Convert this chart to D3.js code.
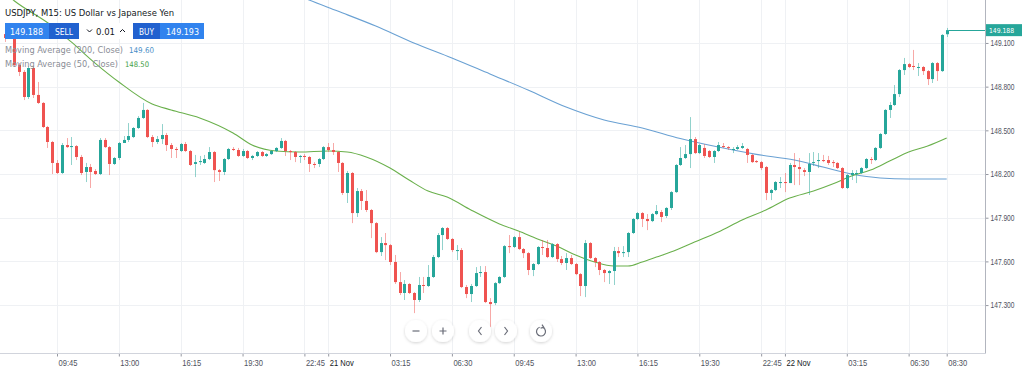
<!DOCTYPE html>
<html>
<head>
<meta charset="utf-8">
<script src="https://cdn.jsdelivr.net/npm/d3@7"></script>
<style>
  body { margin: 0; background: #fff; }
  svg { display: block; font-family: "Liberation Sans Narrow", "DejaVu Sans Condensed", "Arial Narrow", "Liberation Sans", sans-serif; }
</style>
</head>
<body>
<script>
const width = 1024, height = 370
const plotRight = 985, plotBottom = 353

// 15 minute bars, first one at 07:00 on 20 Nov
const startTime = '2023-11-20 07:00'

const opens = [
  149.161, 149.134, 149.182, 148.949, 148.901, 148.729, 148.928, 148.743, 148.688, 148.523,
  148.420, 148.276, 148.207, 148.399, 148.385, 148.392, 148.317, 148.214, 148.248, 148.221,
  148.200, 148.434, 148.385, 148.269, 148.310, 148.413, 148.434, 148.454, 148.516, 148.585,
  148.640, 148.454, 148.420, 148.440, 148.468, 148.399, 148.372, 148.358, 148.406, 148.358,
  148.269, 148.282, 148.276, 148.303, 148.351, 148.227, 148.214, 148.303, 148.372, 148.365,
  148.324, 148.358, 148.310, 148.324, 148.351, 148.324, 148.337, 148.358, 148.379, 148.427,
  148.358, 148.351, 148.317, 148.324, 148.317, 148.269, 148.269, 148.303, 148.385, 148.365,
  148.351, 148.276, 148.070, 148.207, 147.932, 148.083, 148.015, 147.953, 147.863, 147.664,
  147.726, 147.712, 147.596, 147.458, 147.383, 147.445, 147.383, 147.335, 147.438, 147.431,
  147.493, 147.630, 147.781, 147.829, 147.754, 147.671, 147.678, 147.424, 147.376, 147.431,
  147.520, 147.527, 147.321, 147.314, 147.451, 147.493, 147.705, 147.699, 147.767, 147.685,
  147.657, 147.541, 147.582, 147.699, 147.692, 147.630, 147.719, 147.616, 147.589, 147.623,
  147.582, 147.513, 147.431, 147.726, 147.623, 147.596, 147.541, 147.520, 147.534, 147.671,
  147.657, 147.664, 147.795, 147.891, 147.932, 147.891, 147.877, 147.925, 147.939, 147.912,
  147.967, 148.076, 148.262, 148.310, 148.337, 148.440, 148.344, 148.379, 148.358, 148.317,
  148.358, 148.392, 148.385, 148.365, 148.372, 148.379, 148.372, 148.331, 148.289, 148.282,
  148.248, 148.070, 148.090, 148.138, 148.145, 148.138, 148.262, 148.248, 148.227, 148.214,
  148.276, 148.289, 148.296, 148.296, 148.282, 148.276, 148.241, 148.104, 148.193, 148.200,
  148.207, 148.241, 148.303, 148.296, 148.379, 148.475, 148.640, 148.674, 148.749, 148.914,
  148.955, 148.942, 148.928, 148.935, 148.907, 148.852, 148.962, 148.907, 149.160
]
const highs = [
  149.203, 149.210, 149.203, 148.962, 148.914, 148.942, 148.942, 148.832, 148.694, 148.530,
  148.427, 148.296, 148.413, 148.447, 148.454, 148.399, 148.331, 148.276, 148.269, 148.234,
  148.447, 148.447, 148.392, 148.317, 148.420, 148.461, 148.550, 148.523, 148.598, 148.688,
  148.646, 148.468, 148.461, 148.543, 148.482, 148.413, 148.385, 148.413, 148.420, 148.365,
  148.331, 148.324, 148.331, 148.385, 148.358, 148.234, 148.310, 148.379, 148.385, 148.379,
  148.372, 148.365, 148.331, 148.358, 148.358, 148.344, 148.365, 148.385, 148.447, 148.434,
  148.365, 148.358, 148.331, 148.337, 148.324, 148.282, 148.310, 148.392, 148.413, 148.413,
  148.358, 148.282, 148.221, 148.214, 148.104, 148.097, 148.090, 147.960, 147.870, 147.767,
  147.795, 147.719, 147.644, 147.527, 147.472, 147.451, 147.390, 147.493, 147.493, 147.575,
  147.644, 147.795, 147.836, 147.836, 147.760, 147.712, 147.692, 147.438, 147.445, 147.561,
  147.568, 147.568, 147.348, 147.458, 147.499, 147.712, 147.781, 147.774, 147.802, 147.692,
  147.664, 147.589, 147.705, 147.747, 147.747, 147.726, 147.726, 147.637, 147.657, 147.644,
  147.589, 147.520, 147.747, 147.733, 147.630, 147.602, 147.548, 147.541, 147.699, 147.699,
  147.705, 147.802, 147.898, 147.939, 147.939, 147.925, 147.932, 147.987, 147.953, 147.973,
  148.083, 148.269, 148.385, 148.399, 148.591, 148.454, 148.406, 148.406, 148.365, 148.365,
  148.420, 148.413, 148.392, 148.385, 148.399, 148.413, 148.379, 148.337, 148.296, 148.289,
  148.255, 148.097, 148.152, 148.179, 148.207, 148.276, 148.344, 148.310, 148.241, 148.344,
  148.351, 148.344, 148.331, 148.324, 148.296, 148.282, 148.248, 148.200, 148.227, 148.227,
  148.248, 148.310, 148.317, 148.385, 148.482, 148.646, 148.694, 148.811, 148.921, 148.997,
  148.962, 149.052, 148.962, 148.942, 148.914, 148.969, 148.969, 149.161, 149.203
]
const lows = [
  149.107, 149.127, 148.935, 148.873, 148.708, 148.715, 148.722, 148.681, 148.516, 148.379,
  148.200, 148.200, 148.200, 148.379, 148.262, 148.296, 148.193, 148.145, 148.104, 148.193,
  148.193, 148.379, 148.193, 148.262, 148.296, 148.413, 148.420, 148.447, 148.509, 148.578,
  148.447, 148.385, 148.406, 148.406, 148.358, 148.310, 148.310, 148.351, 148.351, 148.255,
  148.179, 148.262, 148.269, 148.296, 148.145, 148.152, 148.193, 148.296, 148.358, 148.317,
  148.317, 148.303, 148.296, 148.317, 148.317, 148.317, 148.331, 148.351, 148.372, 148.324,
  148.296, 148.282, 148.276, 148.296, 148.214, 148.241, 148.248, 148.296, 148.351, 148.331,
  148.214, 148.056, 148.001, 147.863, 147.905, 147.953, 147.939, 147.760, 147.657, 147.637,
  147.609, 147.575, 147.445, 147.369, 147.335, 147.376, 147.245, 147.321, 147.383, 147.424,
  147.486, 147.623, 147.678, 147.747, 147.664, 147.609, 147.417, 147.348, 147.321, 147.424,
  147.493, 147.314, 147.149, 147.300, 147.445, 147.486, 147.657, 147.692, 147.678, 147.623,
  147.506, 147.499, 147.575, 147.644, 147.623, 147.623, 147.596, 147.575, 147.541, 147.575,
  147.506, 147.362, 147.355, 147.616, 147.561, 147.506, 147.458, 147.445, 147.438, 147.630,
  147.630, 147.630, 147.788, 147.884, 147.836, 147.815, 147.870, 147.918, 147.870, 147.898,
  147.953, 148.070, 148.255, 148.303, 148.241, 148.337, 148.337, 148.310, 148.310, 148.276,
  148.351, 148.379, 148.365, 148.344, 148.365, 148.372, 148.276, 148.276, 148.276, 148.227,
  148.021, 148.021, 148.083, 148.104, 148.076, 148.138, 148.124, 148.124, 148.186, 148.056,
  148.255, 148.241, 148.282, 148.262, 148.248, 148.234, 148.097, 148.097, 148.159, 148.138,
  148.200, 148.234, 148.269, 148.289, 148.372, 148.468, 148.585, 148.667, 148.729, 148.880,
  148.928, 148.914, 148.873, 148.880, 148.811, 148.825, 148.839, 148.901, 149.141
]
const closes = [
  149.134, 149.182, 148.949, 148.901, 148.729, 148.928, 148.743, 148.688, 148.523, 148.420,
  148.276, 148.207, 148.399, 148.385, 148.392, 148.317, 148.207, 148.248, 148.214, 148.200,
  148.434, 148.385, 148.269, 148.310, 148.413, 148.434, 148.461, 148.516, 148.585, 148.640,
  148.454, 148.420, 148.440, 148.468, 148.399, 148.372, 148.365, 148.406, 148.358, 148.262,
  148.282, 148.289, 148.303, 148.351, 148.227, 148.214, 148.303, 148.372, 148.365, 148.324,
  148.358, 148.310, 148.324, 148.351, 148.324, 148.337, 148.358, 148.379, 148.427, 148.358,
  148.351, 148.317, 148.324, 148.317, 148.269, 148.262, 148.303, 148.385, 148.365, 148.351,
  148.276, 148.070, 148.207, 147.932, 148.083, 148.015, 147.953, 147.863, 147.664, 147.726,
  147.712, 147.596, 147.458, 147.383, 147.445, 147.383, 147.335, 147.438, 147.431, 147.493,
  147.630, 147.781, 147.829, 147.754, 147.678, 147.678, 147.424, 147.376, 147.431, 147.520,
  147.527, 147.321, 147.307, 147.451, 147.493, 147.705, 147.699, 147.767, 147.685, 147.657,
  147.541, 147.582, 147.699, 147.692, 147.630, 147.719, 147.616, 147.589, 147.623, 147.582,
  147.513, 147.431, 147.726, 147.623, 147.596, 147.541, 147.520, 147.534, 147.671, 147.657,
  147.664, 147.795, 147.891, 147.932, 147.891, 147.877, 147.925, 147.946, 147.905, 147.967,
  148.076, 148.262, 148.310, 148.337, 148.440, 148.344, 148.399, 148.324, 148.317, 148.358,
  148.399, 148.385, 148.379, 148.372, 148.385, 148.392, 148.331, 148.282, 148.282, 148.241,
  148.070, 148.090, 148.145, 148.145, 148.138, 148.262, 148.248, 148.234, 148.214, 148.269,
  148.282, 148.296, 148.289, 148.276, 148.276, 148.241, 148.104, 148.193, 148.207, 148.207,
  148.241, 148.303, 148.296, 148.379, 148.475, 148.640, 148.674, 148.749, 148.914, 148.955,
  148.935, 148.935, 148.935, 148.907, 148.852, 148.962, 148.907, 149.155, 149.188
]

// moving averages, at these bar numbers
const ma200Bars = [62, 64, 70, 78, 86, 94, 102, 110, 118, 126, 134, 142, 150, 158, 166, 172, 178, 184, 190, 198]
const ma200Vals = [149.422, 149.395, 149.319, 149.216, 149.100, 148.997, 148.887, 148.777, 148.660, 148.571,
  148.516, 148.444, 148.385, 148.335, 148.296, 148.248, 148.200, 148.173, 148.166, 148.166]
const ma50Bars = [0, 2, 10, 14, 19, 24, 31, 35, 41, 48, 52, 57, 62, 68, 72, 76, 81, 85, 89, 93, 98,
  104, 108, 112, 116, 120, 124, 128, 131, 134, 137, 140, 145, 150, 155, 160, 165, 170, 174, 178, 182, 186, 190, 194, 198]
const ma50Vals = [149.443, 149.390, 149.216, 149.107, 148.962, 148.832, 148.681, 148.640, 148.585, 148.482,
  148.399, 148.358, 148.351, 148.358, 148.351, 148.317, 148.241, 148.159, 148.083, 148.042, 147.953,
  147.857, 147.808, 147.754, 147.705, 147.644, 147.596, 147.568, 147.568, 147.596, 147.630, 147.664,
  147.733, 147.802, 147.884, 147.953, 148.035, 148.083, 148.131, 148.186, 148.227, 148.289, 148.351,
  148.392, 148.447]

const priceTicks = [147.3, 147.6, 147.9, 148.2, 148.5, 148.8, 149.1]
const timeTicks = ['2023-11-20 09:45', '2023-11-20 13:00', '2023-11-20 16:15', '2023-11-20 19:30',
  '2023-11-20 22:45', '2023-11-21 00:00', '2023-11-21 03:15', '2023-11-21 06:30', '2023-11-21 09:45',
  '2023-11-21 13:00', '2023-11-21 16:15', '2023-11-21 19:30', '2023-11-21 22:45', '2023-11-22 00:00',
  '2023-11-22 03:15', '2023-11-22 06:30', '2023-11-22 08:30']

const symbolTitle = 'USDJPY, M15: US Dollar vs Japanese Yen'
const sellPrice = 149.188, buyPrice = 149.193, lotSize = '0.01'
const ma200Label = 'Moving Average (200, Close)', ma200Shown = '149.60'
const ma50Label = 'Moving Average (50, Close)', ma50Shown = '148.50'

const up = '#26a69a', down = '#ef5350'
const parse = d3.timeParse('%Y-%m-%d %H:%M')
const t0 = parse(startTime)
const barTime = i => d3.timeMinute.offset(t0, 15 * i)

const svg = d3.select('body').append('svg')
    .attr('width', width)
    .attr('height', height)

svg.append('defs').html(
  '<clipPath id="plotclip"><rect x="0" y="0" width="' + plotRight + '" height="' + plotBottom + '"/></clipPath>' +
  '<filter id="sh" x="-50%" y="-50%" width="200%" height="200%"><feDropShadow dx="0" dy="1" stdDeviation="1.6" flood-color="#000" flood-opacity="0.18"/></filter>')

const xScale = d3.scaleTime()
    .domain([parse('2023-11-20 09:45'), parse('2023-11-22 08:30')])
    .range([57, 946.7])
const yScale = d3.scaleLinear()
    .domain([146.971, 149.395])
    .range([plotBottom, 0])

const ticksT = timeTicks.map(parse)

drawGrid()
const plot = svg.append('g').attr('clip-path', 'url(#plotclip)')
drawMA(plot, ma200Bars, ma200Vals, '#6aa1d3')
drawMA(plot, ma50Bars, ma50Vals, '#6ab04c')
drawCandles(plot)
drawAxes()
drawHeader()
drawNav()

// text brought to the width it takes in the picture: shrink the font if it runs long
function fitText(x, y, str, w, size, color) {
  const t = svg.append('text')
      .attr('x', x).attr('y', y)
      .attr('font-size', size + 'px')
      .attr('fill', color)
      .text(str)
  const natural = t.node().getComputedTextLength()
  if (natural > w) t.attr('font-size', (size * w / natural).toFixed(2) + 'px')
  t.attr('textLength', w).attr('lengthAdjust', 'spacingAndGlyphs')
  return t
}

function drawGrid() {
  const g = svg.append('g').attr('stroke', '#eff1f4').attr('stroke-width', 1)
  g.selectAll('.hg').data(priceTicks).enter().append('line')
      .attr('x1', 0).attr('x2', plotRight)
      .attr('y1', d => Math.round(yScale(d)) + 0.5)
      .attr('y2', d => Math.round(yScale(d)) + 0.5)
  g.selectAll('.vg').data(ticksT).enter().append('line')
      .attr('y1', 0).attr('y2', plotBottom)
      .attr('x1', d => Math.round(xScale(d)) + 0.5)
      .attr('x2', d => Math.round(xScale(d)) + 0.5)
}

function drawMA(g, bars, vals, color) {
  const line = d3.line()
      .x(d => xScale(barTime(d[0])))
      .y(d => yScale(d[1]))
      .curve(d3.curveMonotoneX)
  g.append('path')
      .datum(bars.map((b, i) => [b, vals[i]]))
      .attr('d', line)
      .attr('fill', 'none')
      .attr('stroke', color)
      .attr('stroke-width', 1.1)
}

function drawCandles(g) {
  const data = opens.map((o, i) => ({t: barTime(i), o: o, h: highs[i], l: lows[i], c: closes[i]}))
  const cx = d => Math.round(xScale(d.t))
  const col = d => d.c >= d.o ? up : down

  g.selectAll('.wick').data(data).enter().append('line')
      .attr('x1', d => cx(d) + 0.5).attr('x2', d => cx(d) + 0.5)
      .attr('y1', d => yScale(d.h)).attr('y2', d => yScale(d.l))
      .attr('stroke', col)
      .attr('stroke-opacity', 0.5)
  g.selectAll('.body').data(data).enter().append('rect')
      .attr('x', d => cx(d) - 1)
      .attr('width', 3)
      .attr('y', d => yScale(Math.max(d.o, d.c)))
      .attr('height', d => Math.max(1, Math.abs(yScale(d.o) - yScale(d.c))))
      .attr('fill', col)

  // last price line
  const last = data[data.length - 1]
  g.append('line')
      .attr('x1', cx(last) + 2).attr('x2', plotRight)
      .attr('y1', Math.round(yScale(last.c)) + 0.5).attr('y2', Math.round(yScale(last.c)) + 0.5)
      .attr('stroke', up)
}

function drawAxes() {
  const dayFmt = d3.timeFormat('%-d %b'), hourFmt = d3.timeFormat('%H:%M')
  const isDay = d => d.getHours() === 0 && d.getMinutes() === 0
  const yAxis = svg.append('g')
      .attr('transform', 'translate(' + (plotRight + 0.5) + ',0)')
      .call(d3.axisRight(yScale).tickValues(priceTicks).tickFormat(d3.format('.3f'))
        .tickSize(3).tickPadding(2).tickSizeOuter(0))
  yAxis.select('.domain').remove()
  yAxis.selectAll('line').attr('stroke', '#9598a1')
  yAxis.selectAll('text')
      .attr('fill', '#50535e').attr('font-size', '9px').attr('font-family', null)
      .attr('textLength', 24).attr('lengthAdjust', 'spacingAndGlyphs')

  const xAxis = svg.append('g')
      .attr('transform', 'translate(0,' + (plotBottom + 0.5) + ')')
      .call(d3.axisBottom(xScale).tickValues(ticksT)
        .tickFormat(d => isDay(d) ? dayFmt(d) : hourFmt(d))
        .tickSize(3).tickPadding(3).tickSizeOuter(0))
  xAxis.select('.domain').remove()
  xAxis.selectAll('line').attr('stroke', '#9598a1')
  xAxis.selectAll('text')
      .attr('text-anchor', 'start')
      .attr('x', 1)
      .attr('fill', d => isDay(d) ? '#131722' : '#50535e')
      .attr('font-size', d => isDay(d) ? '9.6px' : '9px')
      .attr('font-family', null)
      .attr('textLength', d => isDay(d) ? 24 : 19)
      .attr('lengthAdjust', 'spacingAndGlyphs')

  svg.append('line')
      .attr('x1', plotRight + 0.5).attr('x2', plotRight + 0.5)
      .attr('y1', 0).attr('y2', plotBottom + 1)
      .attr('stroke', '#b2b5be')
  svg.append('line')
      .attr('x1', 0).attr('x2', plotRight + 1)
      .attr('y1', plotBottom + 0.5).attr('y2', plotBottom + 0.5)
      .attr('stroke', '#d1d4dc')

  // price tag of last close
  const ly = yScale(closes[closes.length - 1])
  svg.append('rect')
      .attr('x', plotRight + 1).attr('y', ly - 6)
      .attr('width', 36).attr('height', 12)
      .attr('fill', up)
  fitText(plotRight + 4, ly + 3.2, d3.format('.3f')(closes[closes.length - 1]), 25, 9, '#fff')
}

function drawHeader() {
  fitText(5, 16, symbolTitle, 169, 11, '#131722')

  // sell / lot / buy widget
  const f = d3.format('.3f')
  svg.append('rect').attr('x', 5).attr('y', 23).attr('width', 44).attr('height', 16).attr('fill', '#3183ee')
  svg.append('rect').attr('x', 49).attr('y', 23).attr('width', 30).attr('height', 16).attr('fill', '#2161cf')
  svg.append('rect').attr('x', 80).attr('y', 23).attr('width', 52).attr('height', 16).attr('fill', '#fff')
  svg.append('rect').attr('x', 133).attr('y', 23).attr('width', 27).attr('height', 16).attr('fill', '#2161cf')
  svg.append('rect').attr('x', 160).attr('y', 23).attr('width', 44).attr('height', 16).attr('fill', '#3183ee')
  fitText(10, 35, f(sellPrice), 33, 11, '#fff')
  fitText(55, 35, 'SELL', 18, 11, '#fff')
  fitText(96, 35, lotSize, 19, 11, '#131722')
  fitText(139, 35, 'BUY', 15, 11, '#fff')
  fitText(166, 35, f(buyPrice), 33, 11, '#fff')
  svg.append('path').attr('d', 'M87,29.5 L89.5,32 L92,29.5').attr('fill', 'none').attr('stroke', '#131722')
  svg.append('path').attr('d', 'M120,32 L122.5,29.5 L125,32').attr('fill', 'none').attr('stroke', '#131722')

  fitText(5, 53, ma200Label, 118, 11, '#8a8d96')
  fitText(129, 53, ma200Shown, 25, 11, '#4a8fc7')
  fitText(5, 67, ma50Label, 113, 11, '#8a8d96')
  fitText(125, 67, ma50Shown, 24, 11, '#43a047')
}

function drawNav() {
  const centers = [416, 443, 480, 506, 541]
  const g = svg.append('g')
  g.selectAll('circle').data(centers).enter().append('circle')
      .attr('cx', d => d).attr('cy', 331).attr('r', 11)
      .attr('fill', '#fff')
      .attr('filter', 'url(#sh)')
  const ic = g.append('g').attr('stroke', '#6a6d78').attr('stroke-width', 1.2).attr('fill', 'none')
  ic.append('path').attr('d', 'M412.5,331 H419.5')
  ic.append('path').attr('d', 'M439.5,331 H446.5 M443,327.5 V334.5')
  ic.append('path').attr('d', 'M481.5,327 L478.5,331 L481.5,335')
  ic.append('path').attr('d', 'M504.5,327 L507.5,331 L504.5,335')
  const arc = d3.arc().innerRadius(4.5).outerRadius(4.5).startAngle(0.5).endAngle(2 * Math.PI - 0.3)
  ic.append('path').attr('d', arc()).attr('transform', 'translate(541,331.5)')
  ic.append('path').attr('d', 'M542,324.6 L543.8,327.4 L540.6,328.2')
}
</script>
</body>
</html>
